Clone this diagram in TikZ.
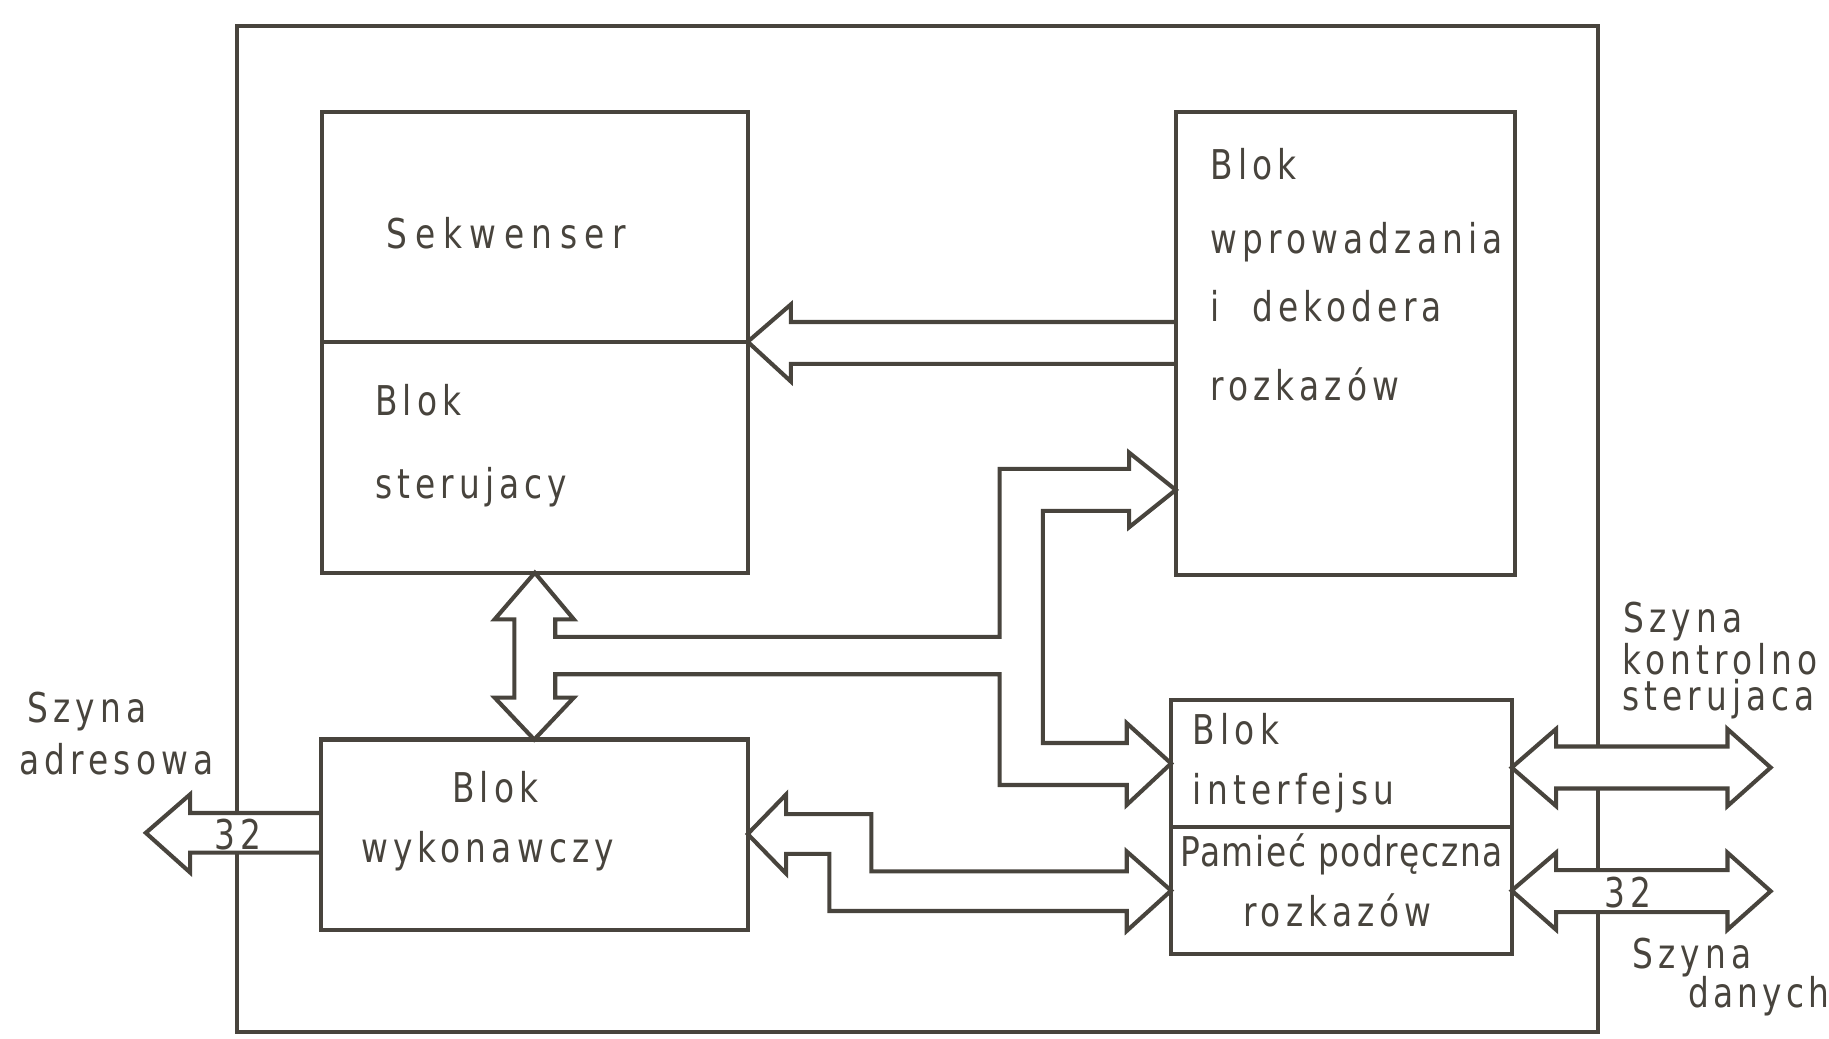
\documentclass[tikz,border=0pt]{standalone}
\usepackage{fontspec}
\setmainfont{DejaVu Sans}[FakeStretch=0.8,LetterSpace=12.5]
\usetikzlibrary{fit}
\definecolor{ink}{HTML}{48443D}
\tikzstyle{blok}=[draw=ink, line width=1pt, inner sep=0pt, outer sep=0pt]
\tikzstyle{napis}=[anchor=base west, inner sep=0pt, text=ink, font=\fontsize{10}{12}\selectfont]
\tikzstyle{szyna}=[draw=ink, line width=1pt, fill=white, line join=miter]
\pgfdeclarelayer{rama}
\pgfdeclarelayer{szyny}
\pgfsetlayers{rama,szyny,main}
\newcommand{\napis}{\node[napis]}

\begin{document}
\begin{tikzpicture}[x=0.01cm, y=-0.01cm]
	\useasboundingbox (0,0) rectangle (1568,890);
	%% the outer frame goes to the bottom layer, so the buses cover it
	\begin{pgfonlayer}{rama}
		\node[blok, fit={(203,22) (1370,885)}] (cpu) {};
	\end{pgfonlayer}
	%% the blocks
	\node[blok, fit={(276,96) (641,293)}] (sek) {};
	\node[blok, fit={(276,293) (641,491)}] (ster) {};
	\node[blok, fit={(1008,96) (1299,493)}] (wpr) {};
	\node[blok, fit={(275,634) (641,797)}] (wyk) {};
	\node[blok, fit={(1004,600) (1296,709)}] (intf) {};
	\node[blok, fit={(1004,709) (1296,818)}] (pam) {};
	%% texts inside the blocks
	\napis at (331,213) {\addfontfeatures{LetterSpace=18.5}Sekwenser};
	\napis at (321,356) {Blok};
	\napis at (321,427) {sterujacy};
	\napis at (1037,154) {Blok};
	\napis at (1037,217) {wprowadzania};
	\napis at (1037,276) {i\hspace{0.8em}dekodera};
	\napis at (1037,343) {rozkazów};
	\napis at (387,688) {Blok};
	\napis at (309,739) {wykonawczy};
	\napis at (1022,638) {Blok};
	\napis at (1022,690) {interfejsu};
	\napis at (1011,743) {\addfontfeatures{LetterSpace=4}Pamieć podręczna};
	\napis at (1065,794) {rozkazów};
	%% texts of the outer buses
	\napis at (23,619) {Szyna};
	\napis at (16,664) {adresowa};
	\napis at (1391,542) {Szyna};
	\napis at (1390,578) {kontrolno};
	\napis at (1390,609) {sterujaca};
	\napis at (1399,830) {Szyna};
	\napis at (1447,864) {\addfontfeatures{LetterSpace=10}danych};
	%% the buses, drawn as hollow arrows
	\begin{pgfonlayer}{szyny}
		% from the decoder to the sequencer
		\draw[szyna] (wpr.west |- 0,276) -- (678,276) -- (678,261) -- (ster.north east)
			-- (678,327) -- (678,312) -- (wpr.west |- 0,312);
		% internal bus: control block, execution block, decoder and interface
		\draw[szyna] (ster.south) -- (492,531) -- (476,531) -- (476,546) -- (857,546)
			-- (857,402) -- (968,402) -- (968,388) -- (wpr.west |- 0,420) -- (968,452)
			-- (968,438) -- (894,438) -- (894,637) -- (966,637) -- (966,620) -- (intf.west)
			-- (966,690) -- (966,673) -- (857,673) -- (857,578) -- (476,578) -- (476,598)
			-- (492,598) -- (wyk.north) -- (424,598) -- (441,598) -- (441,531) -- (424,531)
			-- cycle;
		% execution block and cache
		\draw[szyna] (wyk.east |- 0,715) -- (674,681) -- (674,698) -- (747,698) -- (747,747)
			-- (966,747) -- (966,730) -- (pam.west) -- (966,798) -- (966,781) -- (711,781)
			-- (711,732) -- (674,732) -- (674,749) -- cycle;
		% address bus
		\draw[szyna] (wyk.west |- 0,697) -- (163,697) -- (163,681) -- (125,714) -- (163,748)
			-- (163,731) -- (wyk.west |- 0,731);
		% control bus
		\draw[szyna] (intf.east |- 0,658) -- (1334,625) -- (1334,640) -- (1481,640) -- (1481,625)
			-- (1518,658) -- (1481,691) -- (1481,676) -- (1334,676) -- (1334,691) -- cycle;
		% data bus
		\draw[szyna] (pam.east) -- (1334,731) -- (1334,746) -- (1481,746) -- (1481,731)
			-- (1518,764) -- (1481,797) -- (1481,782) -- (1334,782) -- (1334,797) -- cycle;
	\end{pgfonlayer}
	\napis at (183,728) {32};
	\napis at (1375,778) {32};
\end{tikzpicture}
\end{document}
